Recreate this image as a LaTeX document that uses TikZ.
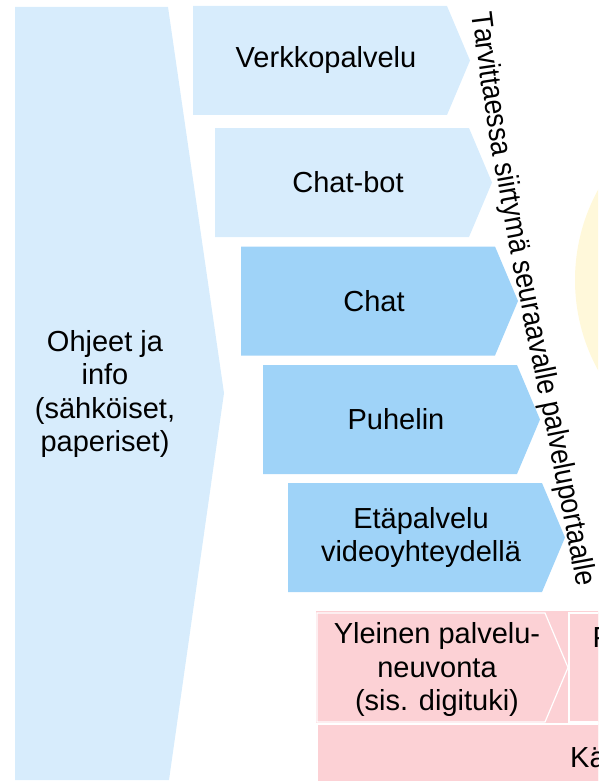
\documentclass[tikz,border=0pt]{standalone}
\usepackage{fontspec}
\setmainfont{Liberation Sans}
\newfontfamily\narrowfont[FakeStretch=0.89]{Liberation Sans}
\usetikzlibrary{calc,decorations.text}

\definecolor{lightblue}{RGB}{215,236,252}
\definecolor{midblue}{RGB}{159,211,248}
\definecolor{palepink}{RGB}{252,209,213}
\definecolor{paleyellow}{RGB}{255,248,218}

\begin{document}
\begin{tikzpicture}[x=1pt,y=-1pt,
    lbl/.style={align=center,inner sep=0pt,font=\fontsize{29}{33.5}\selectfont},
    pinkbox/.style={fill=palepink,draw=white,line width=1.2pt}]
    \useasboundingbox (0,0) rectangle (598,781);
    \clip (0,0) rectangle (598,781);

    % 右侧黄色圆
    \fill[paleyellow] (763,280) circle (188);

    % 左侧大五边形
    \coordinate (I1) at (15,7);
    \coordinate (I2) at (168,7);
    \coordinate (I3) at (224,393);
    \coordinate (I4) at (169,780);
    \coordinate (I5) at (15,780);
    \fill[lightblue] (I1) -- (I2) -- (I3) -- (I4) -- (I5) -- cycle;
    \node[lbl] (info) at (105,394) {Ohjeet ja\\info\\(sähköiset,\\paperiset)};

    % 服务渠道
    \fill[lightblue] (193,6) -- (447,6) -- (470,60.5) -- (447,115) -- (193,115) -- cycle;
    \node[lbl] (verkko) at (326,60.5) {Verkkopalvelu};

    \fill[lightblue] (215,128) -- (469,128) -- (492,182.5) -- (469,237) -- (215,237) -- cycle;
    \node[lbl] (bot) at (348,182.5) {Chat-bot};

    \fill[midblue] (241,246.5) -- (495,246.5) -- (518,301) -- (495,355.5) -- (241,355.5) -- cycle;
    \node[lbl] (chat) at (374,301) {Chat};

    \fill[midblue] (263,365) -- (517,365) -- (540,419.5) -- (517,474) -- (263,474) -- cycle;
    \node[lbl] (puhelin) at (396,419.5) {Puhelin};

    \fill[midblue] (288,483) -- (542,483) -- (565,537.5) -- (542,592) -- (288,592) -- cycle;
    \node[lbl] (eta) at (421,537.5) {Etäpalvelu\\videoyhteydellä};

    % 斜向文字
    \path[decorate,decoration={text along path,
        text={|\narrowfont\fontsize{30}{34}\selectfont|Tarvittaessa siirtymä seuraavalle palveluportaalle}}]
        (472,13) .. controls (495,203) and (543,396) .. (580,605);

    % 底部粉色区域
    \fill[palepink] (316,611) rectangle (600,783);
    \draw[pinkbox] (317,613) -- (545,613) -- (568,667.5) -- (545,722) -- (317,722) -- cycle;
    \node[lbl] (neuvonta) at (437,669.5) {Yleinen palvelu-\\neuvonta\\(sis. digituki)};
    \draw[pinkbox] (569,613) -- (620,613) -- (620,722) -- (569,722) -- cycle;
    \node[lbl,anchor=base west] (seur) at (592.5,647) {P};
    \draw[pinkbox] (317,724) rectangle (620,790);
    \node[lbl,anchor=base west] (kayt) at (570,767) {Kä};
\end{tikzpicture}
\end{document}
